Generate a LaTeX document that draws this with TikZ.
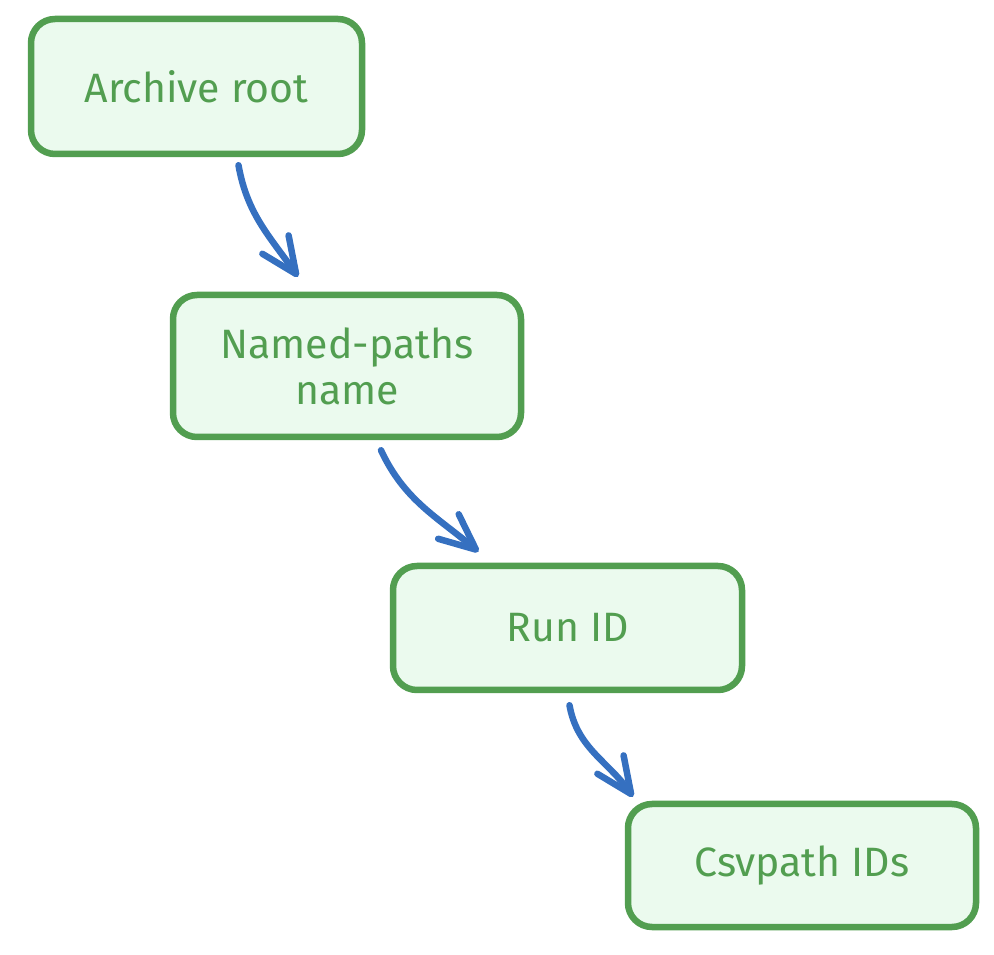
\documentclass[tikz,border=0pt]{standalone}
\usepackage{fontspec}
\setmainfont{Fira Sans}
\usetikzlibrary{arrows.meta}
\definecolor{boxgreen}{HTML}{529E50}
\definecolor{boxfill}{HTML}{EBFAEE}
\definecolor{linkblue}{HTML}{3570C0}
\tikzset{
  level/.style={draw=boxgreen, fill=boxfill, line width=6.5pt, rounded corners=24pt,
    text=boxgreen, font=\fontsize{41}{46}\selectfont, align=center, inner sep=0pt},
  link/.style={draw=linkblue, line width=6.5pt, line cap=round,
    -{Straight Barb[length=36pt,width=32pt,round]}}
}
\begin{document}
\begin{tikzpicture}[x=1pt,y=1pt]
    \useasboundingbox (0,0) rectangle (994,954);
    % the four levels of the archive
    \node[level, minimum width=331pt, minimum height=135pt] (root) at (196.5, 867.5) {Archive root};
    \node[level, minimum width=348pt, minimum height=142pt] (named) at (347, 588) {Named-paths\\name};
    \node[level, minimum width=349pt, minimum height=124pt] (run) at (567.5, 326) {Run ID};
    \node[level, minimum width=348pt, minimum height=123pt] (csv) at (802, 88.5) {Csvpath IDs};
    % links between them
    \draw[link] ([xshift=42pt, yshift=-8pt]root.south) to[out=-80, in=125] ([xshift=-49pt, yshift=15pt]named.north);
    \draw[link] ([xshift=34pt, yshift=-10pt]named.south) to[out=-65, in=140] ([xshift=-89pt, yshift=11pt]run.north);
    \draw[link] ([xshift=2pt, yshift=-12pt]run.south) to[out=-80, in=125] ([xshift=-169pt, yshift=4pt]csv.north);
\end{tikzpicture}
\end{document}
